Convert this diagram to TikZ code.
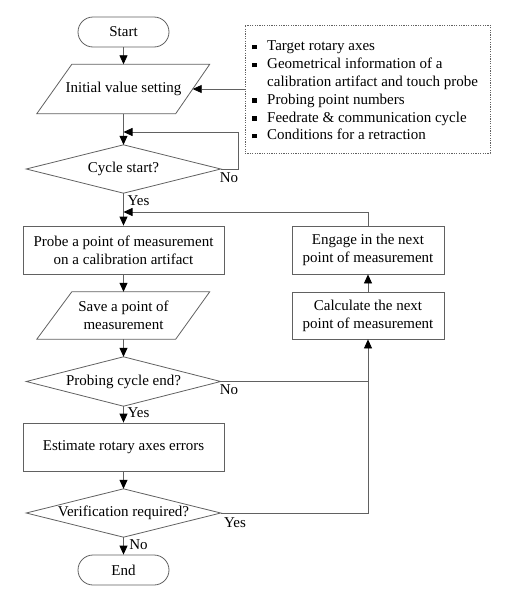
\documentclass[tikz,border=0pt]{standalone}
\usepackage{fontspec}
\setmainfont{Liberation Serif}
\usetikzlibrary{arrows.meta,calc}
\newcommand{\bsq}{\makebox[15pt][l]{\rule[1.5pt]{4.5pt}{4.5pt}}}
\begin{document}
\begin{tikzpicture}[x=1pt,y=-1pt,
  font=\fontsize{15}{18}\selectfont,
  ln/.style={draw=black!62, line width=0.8pt},
  arr/.style={ln, -{Triangle[length=9pt,width=8pt,fill=black,color=black]}},
  term/.style={ln, rounded corners=15pt, minimum width=91pt, minimum height=30pt, inner sep=0pt},
  procbox/.style={ln, minimum height=48pt, inner sep=0pt, align=center},
  iobox/.style={minimum width=138pt, minimum height=48pt, inner sep=0pt, align=center},
  decbox/.style={minimum width=194pt, minimum height=48pt, inner sep=0pt, align=center},
  lbl/.style={inner sep=0pt},
  infobox/.style={draw=black!62, line width=0.8pt, dash pattern=on 1.2pt off 1.2pt, minimum width=245pt, minimum height=128pt, inner sep=0pt}
]
\useasboundingbox (0,0) rectangle (504,600);

% nodes
\node[term] (start) at (123.5,32) {Start};
\node[iobox, minimum height=49pt] (init) at (123.5,89) {Initial value setting};
\node[decbox] (cyc) at (123.5,169) {Cycle start?};
\node[procbox, minimum width=201pt] (probe) at (123.5,250) {Probe a point of measurement\\on a calibration artifact};
\node[iobox, minimum height=47pt] (save) at (123.5,315.5) {Save a point of\\measurement};
\node[decbox, minimum height=49pt] (pend) at (123.5,381.5) {Probing cycle end?};
\node[procbox, minimum width=201pt] (est) at (123.5,447) {Estimate rotary axes errors};
\node[decbox] (ver) at (123.5,513) {Verification required?};
\node[term] (end) at (123.5,570) {End};

\node[procbox, minimum width=152pt] (eng) at (368,250) {Engage in the next\\point of measurement};
\node[procbox, minimum width=152pt, minimum height=47pt] (calc) at (368,315.5) {Calculate the next\\point of measurement};

\node[infobox] (info) at (367.5,89) {};
\node[anchor=west, align=left, inner sep=0pt, font=\fontsize{15}{17.8}\selectfont] (infotext) at (252,90.5)
 {\bsq Target rotary axes\\
  \bsq Geometrical information of a\\
  \hspace*{15pt}calibration artifact and touch probe\\
  \bsq Probing point numbers\\
  \bsq Feedrate \& communication cycle\\
  \bsq Conditions for a retraction};

% shape outlines
\draw[ln] ($(init.north west)+(17.5,0)$) -- ($(init.north east)+(17,0)$) -- ($(init.south east)+(-17,0)$) -- ($(init.south west)+(-17.5,0)$) -- cycle;
\draw[ln] ($(save.north west)+(17.5,0)$) -- ($(save.north east)+(17,0)$) -- ($(save.south east)+(-17,0)$) -- ($(save.south west)+(-17.5,0)$) -- cycle;
\draw[ln] (cyc.north) -- (cyc.east) -- (cyc.south) -- (cyc.west) -- cycle;
\draw[ln] (pend.north) -- (pend.east) -- (pend.south) -- (pend.west) -- cycle;
\draw[ln] (ver.north) -- (ver.east) -- (ver.south) -- (ver.west) -- cycle;

% coordinates
\coordinate (loopR) at (238,169);
\coordinate (loopTop) at (238,132);
\coordinate (loopIn) at (123.5,132);
\coordinate (retTop) at (368,212);
\coordinate (retIn) at (123.5,212);
\coordinate (joinA) at (368,381.5);

% connectors
\draw[arr] (start) -- (init);
\draw[arr] (info.west) -- (init.east);
\draw[arr] (init) -- (cyc.north);
\draw[arr] (cyc.east) -- (loopR) -- (loopTop) -- (loopIn);
\draw[arr] (cyc.south) -- (probe.north);
\draw[arr] (eng.north) -- (retTop) -- (retIn);
\draw[arr] (probe) -- (save);
\draw[arr] (save) -- (pend.north);
\draw[ln] (pend.east) -- (joinA);
\draw[arr] (ver.east) -| (calc.south);
\draw[arr] (calc) -- (eng);
\draw[arr] (pend.south) -- (est.north);
\draw[arr] (est) -- (ver.north);
\draw[arr] (ver.south) -- (end);

% labels
\node[lbl] (noA) at (229,178) {No};
\node[lbl] (yesA) at (138.5,201) {Yes};
\node[lbl] (noB) at (229,390) {No};
\node[lbl] (yesB) at (138.5,413) {Yes};
\node[lbl] (yesC) at (235,523) {Yes};
\node[lbl] (noC) at (138.5,545) {No};
\end{tikzpicture}
\end{document}
